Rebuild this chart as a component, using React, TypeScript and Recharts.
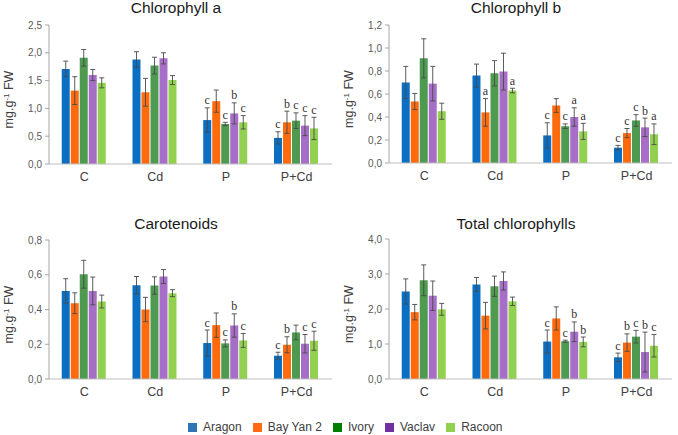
import React from 'react';
import { BarChart, Bar, XAxis, YAxis, ErrorBar, LabelList } from 'recharts';

const treatments = ['C', 'Cd', 'P', 'P+Cd'];
const cultivars = ['Aragon', 'Bay Yan 2', 'Ivory', 'Vaclav', 'Racoon'];
const barColors = ['#0A6FC2', '#FF6A0C', '#4E9A50', '#A66EC6', '#92D050'];
const legendColors = ['#2E75B6', '#FF6A13', '#008000', '#7030A0', '#92D050'];

// values per cultivar, in treatment order C, Cd, P, P+Cd
const chlAValues = [
  [1.71, 1.88, 0.79, 0.47],
  [1.32, 1.29, 1.13, 0.75],
  [1.91, 1.77, 0.72, 0.78],
  [1.6, 1.9, 0.91, 0.69],
  [1.46, 1.51, 0.75, 0.64],
];
const chlAErrors = [
  [0.14, 0.14, 0.22, 0.11],
  [0.25, 0.25, 0.2, 0.2],
  [0.15, 0.15, 0.03, 0.14],
  [0.1, 0.1, 0.19, 0.18],
  [0.09, 0.08, 0.12, 0.2],
];
const chlALetters = [
  ['', '', 'c', 'c'],
  ['', '', '', 'b'],
  ['', '', 'c', 'c'],
  ['', '', 'b', 'c'],
  ['', '', 'c', 'c'],
];

const chlBValues = [
  [0.7, 0.76, 0.24, 0.133],
  [0.535, 0.44, 0.5, 0.26],
  [0.91, 0.78, 0.32, 0.37],
  [0.69, 0.795, 0.4, 0.31],
  [0.45, 0.63, 0.275, 0.25],
];
const chlBErrors = [
  [0.14, 0.1, 0.11, 0.02],
  [0.07, 0.12, 0.06, 0.04],
  [0.17, 0.11, 0.02, 0.05],
  [0.15, 0.16, 0.08, 0.08],
  [0.07, 0.02, 0.07, 0.09],
];
const chlBLetters = [
  ['', '', 'c', 'c'],
  ['', 'a', '', 'c'],
  ['', '', 'c', 'c'],
  ['', '', 'a', 'b'],
  ['', 'a', 'a', 'a'],
];

const carValues = [
  [0.507, 0.54, 0.207, 0.134],
  [0.436, 0.4, 0.31, 0.197],
  [0.603, 0.538, 0.205, 0.268],
  [0.507, 0.59, 0.308, 0.203],
  [0.446, 0.494, 0.222, 0.22],
];
const carErrors = [
  [0.07, 0.05, 0.075, 0.02],
  [0.06, 0.07, 0.07, 0.046],
  [0.08, 0.05, 0.02, 0.042],
  [0.08, 0.04, 0.067, 0.053],
  [0.037, 0.02, 0.04, 0.055],
];
const carLetters = [
  ['', '', 'c', 'c'],
  ['', '', '', 'b'],
  ['', '', 'c', ''],
  ['', '', 'b', 'c'],
  ['', '', 'c', 'c'],
];

const totValues = [
  [2.5, 2.7, 1.07, 0.62],
  [1.91, 1.81, 1.73, 1.04],
  [2.82, 2.65, 1.08, 1.21],
  [2.38, 2.8, 1.35, 0.77],
  [1.99, 2.22, 1.06, 0.95],
];
const totErrors = [
  [0.36, 0.2, 0.33, 0.12],
  [0.22, 0.38, 0.33, 0.25],
  [0.44, 0.29, 0.03, 0.18],
  [0.42, 0.26, 0.28, 0.57],
  [0.17, 0.12, 0.14, 0.32],
];
const totLetters = [
  ['', '', 'c', 'c'],
  ['', '', '', 'b'],
  ['', '', 'c', 'c'],
  ['', '', 'b', 'b'],
  ['', '', 'b', 'c'],
];

const chlATicks = [0, 0.5, 1, 1.5, 2, 2.5];
const chlBTicks = [0, 0.2, 0.4, 0.6, 0.8, 1, 1.2];
const carTicks = [0, 0.2, 0.4, 0.6, 0.8];
const totTicks = [0, 1, 2, 3, 4];

const FONT = '"Liberation Sans", Arial, sans-serif';
const SERIF = '"Liberation Serif", "Times New Roman", serif';

const buildRows = (values: number[][], errors: number[][], letters: string[][]) =>
  treatments.map((name, ti) => {
    const row: any = { name };
    cultivars.forEach((_, ci) => {
      row[`v${ci}`] = values[ci][ti];
      row[`e${ci}`] = errors[ci][ti];
      row[`l${ci}`] = letters[ci][ti];
    });
    return row;
  });

const comma = (v: number) => v.toFixed(1).replace('.', ',');

// letter sits just above the error bar cap
const renderLetter = (props: any) => {
  const vb = props.viewBox || props;
  const [letter, v, e] = String(props.value ?? '').split('|');
  if (!letter) return null;
  const x = Number(vb.x), y = Number(vb.y), w = Number(vb.width), h = Number(vb.height);
  const top = y - (Number(e) * h) / Number(v);
  return (
    <text x={x + w / 2} y={top - 3.5} textAnchor="middle" style={{ fontFamily: SERIF, fontSize: 12 }} fill="#333">
      {letter}
    </text>
  );
};

const renderYLabel = (props: any) => {
  const vb = props.viewBox;
  const cx = 13;
  const cy = vb.y + vb.height / 2 + 5;
  return (
    <text x={cx} y={cy} transform={`rotate(-90, ${cx}, ${cy})`} textAnchor="middle" style={{ fontFamily: FONT, fontSize: 12.5 }} fill="#404040">
      mg.g<tspan dy={-4.5} fontSize={8}>-1</tspan><tspan dy={4.5}> FW</tspan>
    </text>
  );
};

interface PanelProps {
  title: string;
  values: number[][];
  errors: number[][];
  letters: string[][];
  ticks: number[];
  left: number;
  top: number;
  plotTop: number;
  plotBottom: number;
  titleTop: number;
}

const Panel: React.FC<PanelProps> = ({ title, values, errors, letters, ticks, left, top, plotTop, plotBottom, titleTop }) => {
  const rows = buildRows(values, errors, letters);
  const H = 200;
  return (
    <div style={{ position: 'absolute', left, top, width: 340, height: H }}>
      <BarChart width={340} height={H} data={rows} margin={{ top: plotTop, right: 8, bottom: H - plotBottom - 30, left: 0 }} barCategoryGap="18%" barGap={1}>
        <XAxis dataKey="name" height={30} tickLine={false} axisLine={{ stroke: '#BFBFBF' }} tick={{ fill: '#404040', fontSize: 12.5, fontFamily: FONT }} />
        <YAxis
          width={49}
          domain={[ticks[0], ticks[ticks.length - 1]]}
          ticks={ticks}
          tickFormatter={comma}
          tickSize={4}
          tickMargin={3}
          axisLine={{ stroke: '#A6A6A6' }}
          tickLine={{ stroke: '#A6A6A6' }}
          tick={{ fill: '#595959', fontSize: 10, fontFamily: FONT }}
          label={{ content: renderYLabel }}
        />
        {cultivars.map((c, ci) => (
          <Bar key={c} dataKey={`v${ci}`} name={c} fill={barColors[ci]} isAnimationActive={false}>
            <ErrorBar dataKey={`e${ci}`} width={2.5} stroke="#4A4A4A" strokeWidth={0.9} />
            <LabelList dataKey={(d: any) => `${d[`l${ci}`]}|${d[`v${ci}`]}|${d[`e${ci}`]}`} content={renderLetter} />
          </Bar>
        ))}
      </BarChart>
      <div style={{ position: 'absolute', left: 0, width: 352, top: titleTop, textAlign: 'center', fontFamily: FONT, fontSize: 15.5, lineHeight: '18px', color: '#1A1A1A' }}>
        {title}
      </div>
    </div>
  );
};

export default function App() {
  return (
    <div style={{ position: 'absolute', left: 0, top: 0, width: 678, height: 435, background: '#fff', overflow: 'hidden' }}>
      <Panel title="Chlorophyll a" values={chlAValues} errors={chlAErrors} letters={chlALetters} ticks={chlATicks} left={0} top={0} plotTop={25} plotBottom={164} titleTop={-1.4} />
      <Panel title="Chlorophyll b" values={chlBValues} errors={chlBErrors} letters={chlBLetters} ticks={chlBTicks} left={340} top={0} plotTop={25} plotBottom={163} titleTop={-1.4} />
      <Panel title="Carotenoids" values={carValues} errors={carErrors} letters={carLetters} ticks={carTicks} left={0} top={210} plotTop={30} plotBottom={169} titleTop={5.2} />
      <Panel title="Total chlorophylls" values={totValues} errors={totErrors} letters={totLetters} ticks={totTicks} left={340} top={210} plotTop={29} plotBottom={169} titleTop={5.2} />
      <div style={{ position: 'absolute', left: 188, top: 419, height: 16, display: 'flex', alignItems: 'center', fontFamily: FONT, fontSize: 12, color: '#404040' }}>
        {cultivars.map((c, ci) => (
          <div key={c} style={{ display: 'flex', alignItems: 'center', marginRight: 11 }}>
            <span style={{ display: 'inline-block', width: 9, height: 9, background: legendColors[ci], marginRight: 6 }} />
            <span>{c}</span>
          </div>
        ))}
      </div>
    </div>
  );
}
